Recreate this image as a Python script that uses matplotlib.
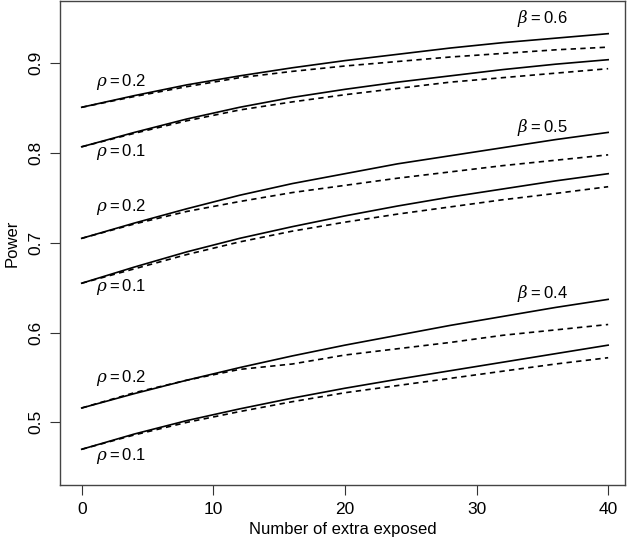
import matplotlib
matplotlib.use("Agg")
import matplotlib.pyplot as plt

plt.rcParams['font.family'] = ['Liberation Sans', 'DejaVu Sans']
plt.rcParams['mathtext.fontset'] = 'custom'
plt.rcParams['mathtext.rm'] = 'Liberation Sans'
plt.rcParams['mathtext.it'] = 'DejaVu Serif:italic'

# number of extra exposed
extra = [0, 4, 8, 12, 16, 20, 24, 28, 32, 36, 40]

# power curves, solid and dashed, for each beta / rho
b6_r2_solid = [0.851, 0.864, 0.876, 0.886, 0.895, 0.903, 0.910, 0.917, 0.923, 0.928, 0.933]
b6_r2_dash = [0.851, 0.863, 0.874, 0.884, 0.891, 0.897, 0.902, 0.907, 0.911, 0.915, 0.918]
b6_r1_solid = [0.807, 0.823, 0.838, 0.851, 0.862, 0.871, 0.879, 0.886, 0.893, 0.899, 0.904]
b6_r1_dash = [0.807, 0.822, 0.836, 0.848, 0.857, 0.865, 0.872, 0.879, 0.884, 0.889, 0.894]

b5_r2_solid = [0.705, 0.722, 0.738, 0.753, 0.766, 0.777, 0.788, 0.797, 0.806, 0.815, 0.823]
b5_r2_dash = [0.705, 0.721, 0.735, 0.746, 0.756, 0.764, 0.772, 0.779, 0.786, 0.792, 0.798]
b5_r1_solid = [0.655, 0.673, 0.690, 0.705, 0.718, 0.730, 0.741, 0.751, 0.760, 0.769, 0.777]
b5_r1_dash = [0.655, 0.671, 0.687, 0.701, 0.713, 0.723, 0.732, 0.740, 0.748, 0.755, 0.7625]

b4_r2_solid = [0.516, 0.532, 0.547, 0.561, 0.574, 0.586, 0.597, 0.608, 0.618, 0.628, 0.637]
b4_r2_dash = [0.516, 0.533, 0.547, 0.559, 0.565, 0.575, 0.582, 0.589, 0.597, 0.603, 0.609]
b4_r1_solid = [0.470, 0.487, 0.502, 0.515, 0.527, 0.538, 0.548, 0.5575, 0.567, 0.5765, 0.586]
b4_r1_dash = [0.470, 0.486, 0.500, 0.512, 0.523, 0.533, 0.541, 0.549, 0.557, 0.565, 0.572]

solid_curves = [b6_r2_solid, b6_r1_solid, b5_r2_solid, b5_r1_solid, b4_r2_solid, b4_r1_solid]
dash_curves = [b6_r2_dash, b6_r1_dash, b5_r2_dash, b5_r1_dash, b4_r2_dash, b4_r1_dash]

# labels
rho_labels = ['0.2', '0.1', '0.2', '0.1', '0.2', '0.1']
rho_label_y = [0.879, 0.8015, 0.740, 0.651, 0.549, 0.462]
beta_labels = ['0.6', '0.5', '0.4']
beta_label_y = [0.950, 0.829, 0.643]

fig = plt.figure(figsize=(6.3, 5.4), dpi=100)
ax = fig.add_axes([60 / 630, 55 / 540, 565 / 630, 484 / 540])

for s in solid_curves:
    ax.plot(extra, s, color='black', lw=1.2, solid_joinstyle='round')
for d in dash_curves:
    ax.plot(extra, d, color='black', lw=1.2, dashes=(3.2, 2.6))

for lab, y in zip(rho_labels, rho_label_y):
    ax.text(3, y, r'$\rho = $' + lab, ha='center', va='center', fontsize=12)
for lab, y in zip(beta_labels, beta_label_y):
    ax.text(35, y, r'$\beta = $' + lab, ha='center', va='center', fontsize=12)

ax.set_xlim(-1.65, 41.28)
ax.set_ylim(0.4302, 0.9694)
ax.set_xticks([0, 10, 20, 30, 40])
ax.set_yticks([0.5, 0.6, 0.7, 0.8, 0.9])
ax.set_yticklabels(['0.5', '0.6', '0.7', '0.8', '0.9'], rotation=90, va='center')
ax.tick_params(length=7, width=0.8, color='#333333', labelsize=12.5, pad=5)
for sp in ax.spines.values():
    sp.set_color('#444444')
    sp.set_linewidth(1.0)

ax.set_xlabel('Number of extra exposed', fontsize=12, labelpad=4)
ax.set_ylabel('Power', fontsize=12, labelpad=6)

fig.savefig('out.png', dpi=100)
